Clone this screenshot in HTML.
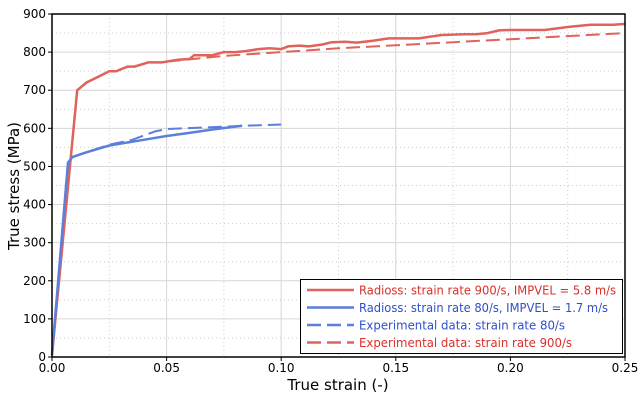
<!DOCTYPE html>
<html><head><meta charset="utf-8"><style>
body{margin:0;background:#fff;}
svg{display:block;font-family:"DejaVu Sans","Liberation Sans",sans-serif;}
</style></head><body>
<svg id="s" width="640" height="400" xmlns="http://www.w3.org/2000/svg"></svg>
<script>
const s=document.getElementById('s');
const X0=52,X1=625,Y0=357,Y1=14;
const fx=x=>X0+x/0.25*(X1-X0), fy=y=>Y0-y/900*(Y0-Y1);
let h='';
for(let i=1;i<10;i+=2){let x=fx(i*0.025);h+=`<line x1="${x}" y1="${Y1}" x2="${x}" y2="${Y0}" stroke="#ccc" stroke-dasharray="1,3"/>`;}
for(let i=1;i<18;i+=2){let y=fy(i*50);h+=`<line x1="${X0}" y1="${y}" x2="${X1}" y2="${y}" stroke="#ccc" stroke-dasharray="1,3"/>`;}
for(let i=1;i<5;i++){let x=fx(i*0.05);h+=`<line x1="${x}" y1="${Y1}" x2="${x}" y2="${Y0}" stroke="#d6d6d6"/>`;}
for(let i=1;i<9;i++){let y=fy(i*100);h+=`<line x1="${X0}" y1="${y}" x2="${X1}" y2="${y}" stroke="#d6d6d6"/>`;}
const P=a=>a.map((p,i)=>(i?'L':'M')+fx(p[0]).toFixed(1)+','+fy(p[1]).toFixed(1)).join('');
const red='#e0625a',blue='#5b7fdb';
const rs=[[0,5],[0.011,700],[0.015,720],[0.025,750],[0.028,750],[0.033,762],[0.036,762],[0.042,773],[0.048,773],[0.055,780],[0.06,782],[0.062,792],[0.07,792],[0.075,800],[0.08,800],[0.085,803],[0.09,808],[0.095,810],[0.1,808],[0.103,815],[0.108,817],[0.112,815],[0.118,820],[0.122,826],[0.128,827],[0.133,825],[0.14,830],[0.147,836],[0.16,836],[0.17,845],[0.18,847],[0.185,847],[0.19,850],[0.195,857],[0.2,858],[0.215,858],[0.225,866],[0.235,872],[0.245,872],[0.25,874]];
const rd=[[0.05,775],[0.075,790],[0.1,800],[0.125,810],[0.15,818],[0.175,826],[0.2,834],[0.225,842],[0.25,850]];
const bs=[[0,5],[0.007,510],[0.009,525],[0.015,537],[0.025,555],[0.04,570],[0.05,580],[0.06,588],[0.07,597],[0.083,607]];
const bd=[[0,5],[0.007,510],[0.009,525],[0.015,537],[0.025,557],[0.035,570],[0.045,592],[0.05,598],[0.065,602],[0.085,607],[0.1,610]];
h+=`<path d="${P(rd)}" fill="none" stroke="${red}" stroke-width="2" stroke-dasharray="14,6"/>`;
h+=`<path d="${P(bd)}" fill="none" stroke="${blue}" stroke-width="2" stroke-dasharray="14,6"/>`;
h+=`<path d="${P(rs)}" fill="none" stroke="${red}" stroke-width="2.5"/>`;
h+=`<path d="${P(bs)}" fill="none" stroke="${blue}" stroke-width="2.5"/>`;
h+=`<rect x="${X0}" y="${Y1}" width="${X1-X0}" height="${Y0-Y1}" fill="none" stroke="#000" stroke-width="1.5"/>`;
for(let i=0;i<=5;i++){let x=fx(i*0.05);h+=`<line x1="${x}" y1="${Y0}" x2="${x}" y2="${Y0+4}" stroke="#000"/><text x="${x}" y="372" font-size="12" text-anchor="middle">${(i*0.05).toFixed(2)}</text>`;}
for(let i=0;i<=9;i++){let y=fy(i*100);h+=`<line x1="${X0-4}" y1="${y}" x2="${X0}" y2="${y}" stroke="#000"/><text x="${X0-6}" y="${y+4}" font-size="12" text-anchor="end">${i*100}</text>`;}
h+=`<text x="338" y="390" font-size="15" text-anchor="middle">True strain (-)</text>`;
h+=`<text transform="translate(19,186) rotate(-90)" font-size="15" text-anchor="middle">True stress (MPa)</text>`;
h+=`<rect x="300.5" y="279.5" width="322" height="74" fill="#fff" stroke="#000"/>`;
const L=[[red,'',"Radioss: strain rate 900/s, IMPVEL = 5.8 m/s",'#d9302a',257],[blue,'',"Radioss: strain rate 80/s, IMPVEL = 1.7 m/s",'#2f50c8',249],[blue,'14,6',"Experimental data: strain rate 80/s",'#2f50c8',206],[red,'14,6',"Experimental data: strain rate 900/s",'#d9302a',213]];
L.forEach((l,i)=>{let y=290+i*17.5;h+=`<line x1="307" y1="${y}" x2="354" y2="${y}" stroke="${l[0]}" stroke-width="2.5" ${l[1]?`stroke-dasharray="${l[1]}"`:''}/><text x="359" y="${y+4.5}" font-size="12.5" fill="${l[3]}" textLength="${l[4]}" lengthAdjust="spacingAndGlyphs">${l[2]}</text>`;});
s.innerHTML=h;
</script>
</body></html>
